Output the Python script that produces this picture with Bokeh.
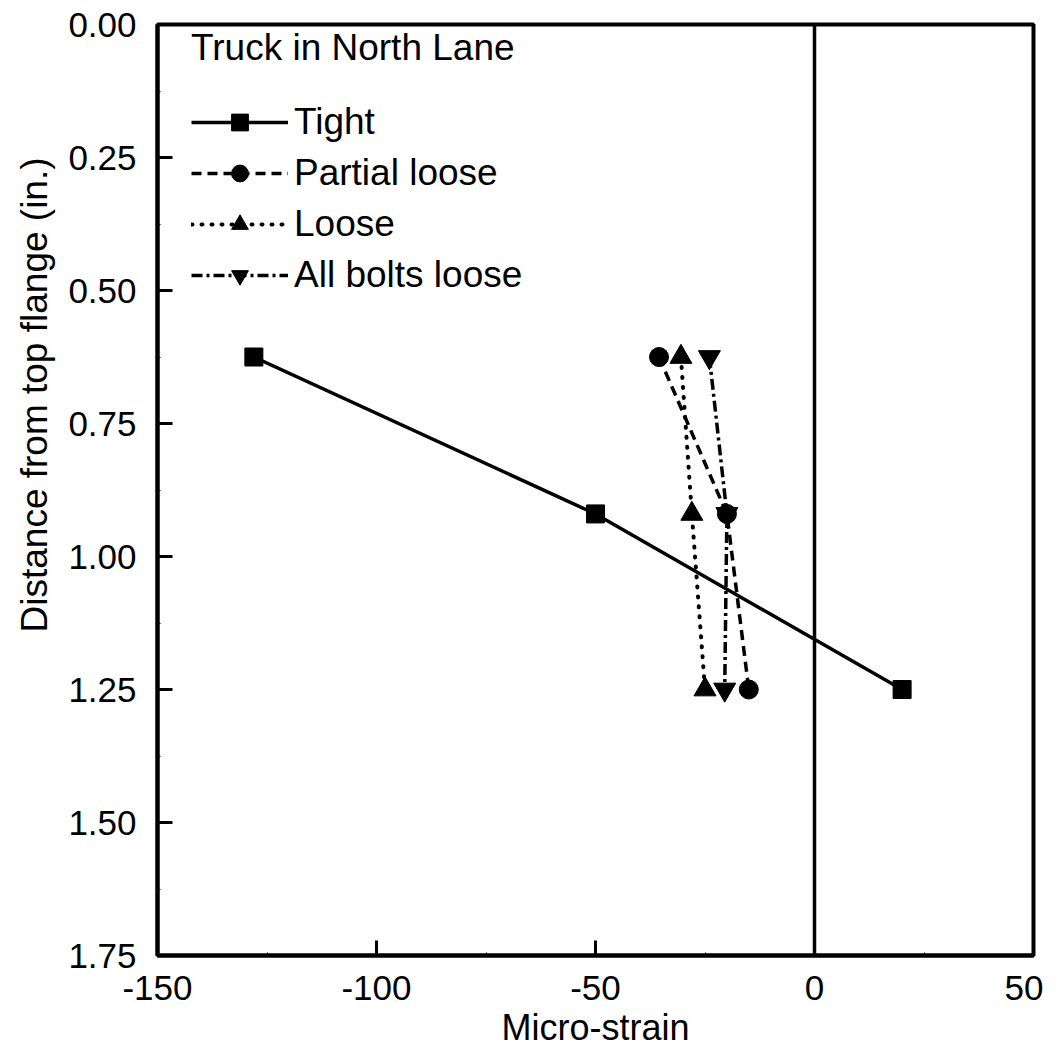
from bokeh.plotting import figure
from bokeh.models import Range1d, FixedTicker, PrintfTickFormatter, Span, Legend, LegendItem, Title
from bokeh.embed import file_html
from bokeh.resources import INLINE

depth = [0.625, 0.92, 1.25]
tight = [-128, -50, 20]
partial_loose = [-35.5, -20, -15]
loose = [-30.5, -28, -25]
all_loose = [-24, -20, -20.5]

x_ticks = [-150, -100, -50, 0, 50]
x_minor = [-125, -75, -25, 25]
y_ticks = [0, 0.25, 0.5, 0.75, 1.0, 1.25, 1.5, 1.75]
y_minor = [0.125, 0.375, 0.625, 0.875, 1.125, 1.375, 1.625]

FONT = "Liberation Sans"
TICK_FS = "35px"
TEXT_FS = "37px"

p = figure(width=1043, height=1053, output_backend="svg", toolbar_location=None,
           x_range=Range1d(-150, 50), y_range=Range1d(1.75, 0))
p.min_border_left = 156
p.min_border_right = 10
p.min_border_top = 24
p.min_border_bottom = 98
p.xgrid.visible = False
p.ygrid.visible = False
p.outline_line_color = "black"
p.outline_line_width = 4
p.background_fill_color = "white"
p.border_fill_color = "white"

p.xaxis.ticker = FixedTicker(ticks=x_ticks, minor_ticks=x_minor)
p.yaxis.ticker = FixedTicker(ticks=y_ticks, minor_ticks=y_minor)
p.xaxis.formatter = PrintfTickFormatter(format="%d")
p.yaxis.formatter = PrintfTickFormatter(format="%.2f")
p.xaxis.axis_label = "Micro-strain"
for ax in (p.xaxis[0], p.yaxis[0]):
    ax.axis_line_width = 4
    ax.axis_line_color = "black"
    ax.major_tick_in = 15
    ax.major_tick_out = 0
    ax.major_tick_line_width = 3
    ax.minor_tick_in = 3
    ax.minor_tick_out = 0
    ax.minor_tick_line_width = 1
    ax.major_label_text_font = FONT
    ax.major_label_text_font_size = TICK_FS
    ax.major_label_text_color = "black"
    ax.axis_label_text_font = FONT
    ax.axis_label_text_font_size = "36px"
    ax.axis_label_text_font_style = "normal"
    ax.axis_label_text_color = "black"
p.xaxis.major_label_standoff = 20
p.yaxis.major_label_standoff = 21
p.xaxis.axis_label_standoff = 4

ylab = Title(text="Distance from top flange (in.)", align="left", offset=323,
             text_font=FONT, text_font_size=TEXT_FS, text_font_style="normal",
             text_color="black", standoff=22)
p.add_layout(ylab, "left")

p.add_layout(Span(location=0, dimension="height", line_color="black", line_width=3.5))

lw = 3.5
r1 = p.line(tight, depth, line_color="black", line_width=lw)
s1 = p.scatter(tight, depth, marker="square", size=18, color="black")
r2 = p.line(partial_loose, depth, line_color="black", line_width=lw, line_dash="10 6")
s2 = p.scatter(partial_loose, depth, marker="circle", size=19, color="black")
r3 = p.line(loose, depth, line_color="black", line_width=4, line_dash="1 9", line_cap="round")
s3 = p.scatter(loose, depth, marker="triangle", size=22, color="black")
r4 = p.line(all_loose, depth, line_color="black", line_width=lw, line_dash="11 4 3 4")
s4 = p.scatter(all_loose, depth, marker="inverted_triangle", size=22, color="black")

legend = Legend(items=[
    LegendItem(label="Tight", renderers=[r1, s1]),
    LegendItem(label="Partial loose", renderers=[r2, s2]),
    LegendItem(label="Loose", renderers=[r3, s3]),
    LegendItem(label="All bolts loose", renderers=[r4, s4]),
], location=(34, 659))
legend.title = "Truck in North Lane"
legend.title_text_font = FONT
legend.title_text_font_size = TEXT_FS
legend.title_text_font_style = "normal"
legend.title_text_color = "black"
legend.title_standoff = 32
legend.label_text_font = FONT
legend.label_text_font_size = TEXT_FS
legend.label_text_color = "black"
legend.glyph_width = 97
legend.glyph_height = 42
legend.label_height = 42
legend.label_standoff = 6
legend.spacing = 9
legend.padding = 0
legend.margin = 0
legend.border_line_color = None
legend.background_fill_alpha = 0
p.add_layout(legend)

open("out.html", "w").write(file_html(p, INLINE))
